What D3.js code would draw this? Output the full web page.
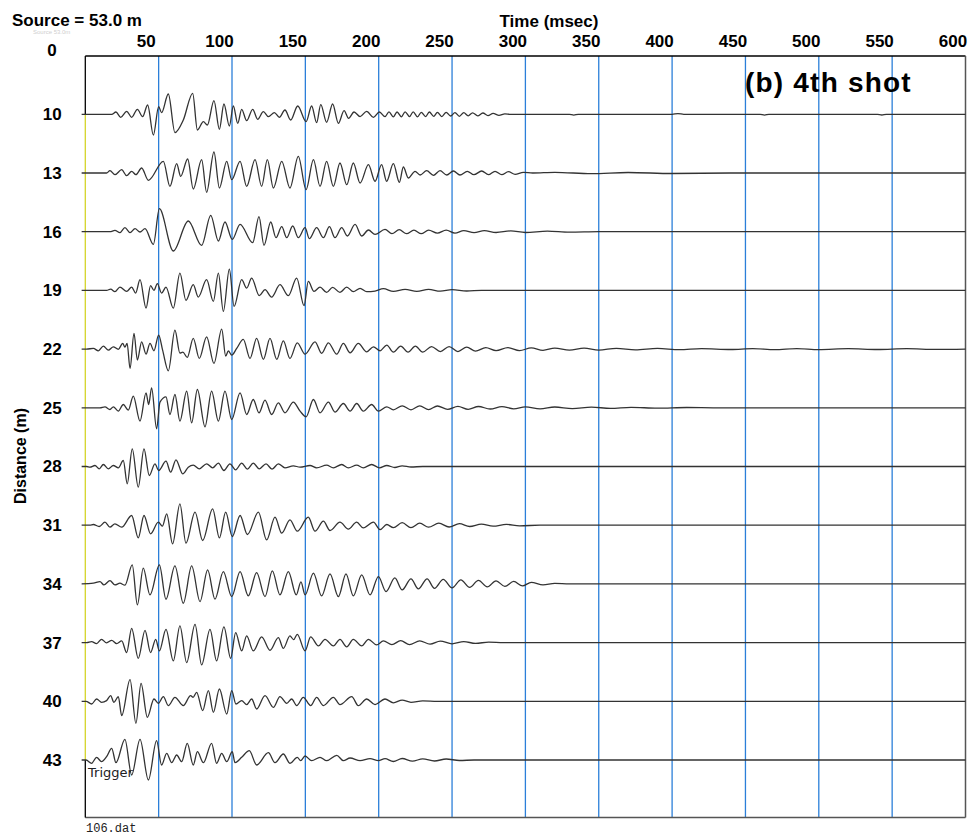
<!DOCTYPE html>
<html>
<head>
<meta charset="utf-8">
<script src="https://cdn.jsdelivr.net/npm/d3@7"></script>
<style>
  body { margin: 0; background: #fff; }
  svg { display: block; font-family: Arial, "Liberation Sans", sans-serif; }
</style>
</head>
<body>
<svg id="chart" width="971" height="839"></svg>
<script>
// receiver offsets (m) and time marks (ms)
const distances = [10, 13, 16, 19, 22, 25, 28, 31, 34, 37, 40, 43];
const gridTimes = [50, 100, 150, 200, 250, 300, 350, 400, 450, 500, 550];
const tickTimes = [50, 100, 150, 200, 250, 300, 350, 400, 450, 500, 550, 600];

// traces: [time ms, relative amplitude] at each turning point
const trace10 = [[-2.5,0],[18,0],[20.9,2.3],[24.1,-3],[28.2,3],[31.6,-3],[35.5,5],[39.1,-2.3],[42.5,9.3],[46.4,-20.7],[50,7.7],[52,1.7],[56.6,20.3],[61.1,-18.3],[66.8,-5.7],[73.2,21],[76.4,-15.7],[80.5,-7.3],[83.2,-10.7],[87.7,13.7],[91.4,-15],[94.5,10.3],[98.2,-11.7],[100.9,8.3],[103.9,-9],[106.6,5],[110,-6.3],[114.1,5],[117.5,-5],[121.4,2.7],[124.8,-2.3],[128.9,1.7],[132.3,-3],[136.1,4.3],[140,-5.7],[144.8,8.3],[150.5,-7.3],[154.3,8.3],[157.7,-8.3],[160.5,9.7],[164.5,-8],[168.6,10.3],[172.5,-9],[176.4,3.7],[179.5,-4],[183.2,2.3],[187.3,-2.3],[191.8,3],[196.4,-3],[200.5,2.3],[204.3,-2.3],[207,2.5],[210,-2.5],[212.5,2.3],[215.5,-2.5],[218,2.5],[221,-2.3],[223.5,2.5],[226.5,-2.5],[229,2],[232,-2.3],[234.5,2.3],[237.5,-2],[240,2],[243,-2.3],[246,2],[249,-1.7],[252,1.7],[255,-2],[258,1.7],[261,-1.5],[264,1.5],[267.5,-1.5],[271,1.3],[274.5,-1.3],[278,1],[282,-1],[286,0.5],[290,0],[330,0],[333,-0.8],[336,0],[400,0],[404,0.7],[408,0],[460,0],[463,-0.8],[466,0],[540,0],[543,-0.7],[546,0],[600,0]];
const trace13 = [[-2.5,0],[14.5,0],[16.8,2.3],[20.2,-1.7],[24.8,3.3],[28.2,-2.7],[31.6,1.7],[34.5,-1.7],[38.4,5],[43,-7.3],[53.2,11.7],[57.7,-13.3],[62.3,9.3],[65,-3.3],[69.8,14],[73.6,-16],[79.3,13.3],[82.7,-19.3],[87.7,21],[91.4,-15],[96.4,11.7],[99.8,-6.7],[105.5,11.7],[110,-13.3],[115.7,13.3],[120.2,-13.3],[124.1,13.3],[128.2,-15],[133.9,11.7],[139.5,-15],[145.2,16.7],[150.5,-16.7],[155.5,13.3],[160,-13.3],[164.5,11.7],[169.1,-13.3],[173.6,10],[178.2,-11.7],[182.7,10],[187.3,-10],[193,8.3],[197.5,-8.3],[202,8.3],[205.4,-8.3],[210,9.3],[214.1,-9.3],[216.8,6],[220.2,-5],[224.8,1.7],[228.2,-2],[232.7,2.3],[237.3,-2.3],[241.8,2.3],[246.4,-2],[250.9,2],[255.4,-2],[260.4,1.7],[264.9,-1.7],[270.2,2],[274.8,-1.7],[279.3,1.7],[283.9,-1.7],[288.4,1.3],[293,-1.3],[298.6,0.7],[305,0],[320,0.7],[345,-0.7],[370,0.5],[400,-0.5],[440,0],[600,0]];
const trace16 = [[-2.5,0],[16.8,0],[20.2,1.3],[23.6,-1],[27,4],[30.5,-1],[33.9,3],[37.3,-0.3],[40.7,3],[46.4,-12.7],[50.5,23],[60,-19.3],[70.2,10.7],[79.3,-13.7],[85.5,16.3],[90.7,-9.3],[95.2,9.7],[100.2,-7.7],[105.5,7.3],[114.1,-11],[118.4,15],[121.8,-13.7],[126.4,9.7],[130,-6],[133.9,5],[137.3,-6],[141.4,5.7],[145.2,-6],[149.8,4],[152.7,-7],[157.7,4],[162.3,-6],[166.4,5],[170.2,-6],[174.8,4],[178.6,-4.3],[183.9,7.3],[188.4,-4.3],[193,1.7],[197.5,-2.7],[204.3,2.3],[209,-2],[214,2],[219,-2],[224,1.5],[229,-2],[234,1.5],[240,-1.5],[246,1.5],[252,-1.5],[258,1],[265,-1],[272,1],[280,-0.8],[290,0.8],[300,-0.8],[315,0.5],[330,-0.5],[350,0],[600,0]];
const trace19 = [[-2.5,0],[14.5,0],[17.3,1.3],[20.2,-1.3],[23.6,3.3],[28.2,-1],[31.6,3.3],[34.3,-2.7],[37.3,10.7],[41.4,-17.7],[44.5,4.7],[46.8,0],[49.1,6.7],[52,-2.7],[55,3.3],[60,-17.7],[64.5,17.3],[68.6,-10],[73.6,5.7],[77,-6.7],[82.7,10.7],[87.3,-11],[90.7,17.3],[94.1,-21],[98.2,21.3],[101.4,-16],[106.6,10.7],[110,2.3],[113.4,12.3],[118.6,-5.3],[122.5,0.7],[127,-6.7],[132.7,5.7],[138.4,-5.3],[144.1,12.3],[149.1,-15.3],[152,9],[155.9,-1],[160,3.3],[164.5,-2],[168.6,3],[173.6,-2],[178.2,3.3],[182.7,-1.3],[187.3,2],[191.8,-1.3],[197.5,-0.7],[203.2,1.7],[210,-1],[218,1],[226,-1],[234,1],[242,-0.8],[250,0.8],[260,-0.6],[270,0],[600,0]];
const trace22 = [[-2.5,0],[0.9,0],[5.5,0.7],[8.9,-1.7],[12.3,3],[15.7,-1],[19.1,2.3],[22.5,-0.3],[25.5,5.7],[27,2],[28.5,5.7],[30.5,-19.3],[33.2,15.7],[35.5,-11],[38.4,7.3],[41.4,-5],[44.1,5.7],[46.8,-1.7],[50,14],[52.7,-1],[56.6,-21.7],[61.1,19],[64.5,-4],[66.5,-3],[69.5,-8.3],[73.6,10.7],[77.7,-9.3],[82.7,12.3],[87.7,-14.3],[93,20],[95.7,-7],[97.5,-1.7],[99.8,-6],[103.2,0.7],[107.7,9.7],[112.3,-9.3],[116.8,10.7],[121.4,-10.3],[125.9,10.7],[130.5,-10.3],[135,8.3],[139.5,-9.3],[144.5,6.3],[149.8,-5],[156.6,7.3],[161.1,-4.3],[165.7,6.3],[171.4,-5],[175.9,5.7],[180.5,-3.7],[186.1,5.7],[191.8,-2.7],[196.4,2.3],[200.9,-1.7],[205.5,4],[210,-3],[215,3],[220,-3],[225,3],[230,-3],[236,2.5],[242,-2.5],[248,2.5],[254,-2.5],[260,2],[266,-2],[273,1.5],[280,-1.5],[288,1.5],[296,-1.5],[304,1.2],[312,-1.2],[320,1],[330,-1],[340,1],[350,-1],[362,0.8],[375,-0.8],[390,0.7],[405,-0.6],[420,0.5],[440,-0.4],[455,0.5],[470,-0.5],[485,0.5],[500,-0.5],[520,0.4],[540,-0.4],[560,0.4],[580,-0.3],[600,0]];
const trace25 = [[-2.5,0],[10,0],[13.4,1],[16.8,-1.7],[19.1,1],[22.5,-3.3],[25.9,3.3],[29.3,-2.3],[32.7,11.7],[37.3,-13.3],[41.4,15],[43.2,3.3],[45.2,20],[48.6,-21],[50.9,5.7],[55,11],[57.7,-6.7],[61.1,13.3],[64.5,-13.3],[69.1,16.7],[72.5,-15],[76.4,18.3],[81.6,-19],[86.1,16.7],[90.7,-13.3],[95.2,16.7],[99.8,-11.7],[105.5,15],[110,-6.7],[114.5,8.3],[118.4,-5],[122.5,7.7],[127,-6.7],[131.6,5],[136.1,-5],[141.8,5.7],[146.4,-3.3],[150.5,-9],[155.5,8.3],[160,-5],[165.7,5.7],[170.2,-4.3],[175.9,4.3],[180.5,-3.3],[185,4.3],[189.5,-3.3],[195.2,3.3],[199.8,-3.3],[205.5,1],[210,-2],[216,2],[222,-2],[228,2],[234,-1.8],[240,1.8],[247,-1.5],[254,1.5],[261,-1.5],[268,1.3],[276,-1.2],[284,1.2],[292,-1],[300,1],[310,-1],[320,0.8],[332,-0.8],[345,0.7],[358,-0.6],[372,0.5],[390,-0.4],[410,0.3],[430,0],[600,0]];
const trace28 = [[-2.5,0],[0.9,0],[3.2,-0.7],[6.6,1],[9.5,-2.3],[12.3,2],[15.7,-2.3],[19.1,1],[22.5,-1.3],[25.9,6],[28.6,-17.3],[32,17.7],[36.1,-20.7],[40,17.7],[43.6,-9],[47.5,2.7],[50,-4],[55,5.3],[58.2,-5.7],[61.8,6.7],[66.4,-7.3],[70.2,-0.7],[73.6,1.3],[77.7,-2.3],[82.7,2.7],[86.8,-1.3],[90.7,3.3],[94.5,-4],[98.6,2.7],[102.5,-3.3],[106.6,3.3],[110.5,-2.7],[114.5,3.3],[118.6,-2.3],[123.2,2.7],[127.3,-2.7],[131.6,2.7],[136.1,-1.3],[141.8,0.7],[146.4,-0.7],[153.2,1],[157.7,-1.3],[164.5,1.3],[169.1,-1.3],[174.8,2],[179.3,-1.3],[185,1.3],[189.5,-1.3],[195.2,2],[200.5,-1.3],[205.5,1],[211,-1],[216,0.7],[222,-0.5],[230,0],[600,0]];
const trace31 = [[-2.5,0],[3.2,0],[5.5,0.7],[9.5,-1.3],[13.4,3],[16.8,-2],[20.2,1.3],[24.8,-2],[31.6,9.7],[36.1,-12.7],[40,9.7],[44.5,-8.7],[49.8,3],[52.5,-1],[55.5,11.3],[59.5,-18.7],[64.5,21.3],[68.6,-18],[74.8,13],[80,-15.3],[86.8,16.3],[91.4,-12.7],[95.7,13],[100.2,-11.3],[105.5,9.7],[110.5,-9.3],[118,13],[123.6,-14.7],[129.3,8],[133.9,-8],[139.5,5.3],[144.5,-6],[152,8],[156.6,-6],[162.3,4],[166.8,-5.3],[173.6,3],[179.3,-4],[185,3],[189.5,-2.7],[196.4,3],[200.9,-4.5],[205.5,0.7],[210,-2.5],[216,2.5],[222,-2.5],[228,2],[234,-2],[241,2],[248,-1.8],[255,1.5],[262,-1.3],[270,1],[278,-1],[287,0.8],[296,-0.6],[310,0],[600,0]];
const trace34 = [[-2.5,0],[5.5,0.7],[10,2.3],[12.7,-1],[16.8,3.3],[20.2,-1],[23.6,0.7],[27,-1.3],[32,19],[35.5,-21],[39.5,15.7],[44.1,-11],[50.5,19],[55,-15.3],[61.1,18],[66.8,-19.3],[72.5,18],[78.2,-17.7],[83.4,14],[88.4,-15.3],[94.1,12.3],[99.8,-12.7],[105.5,12.3],[111.1,-12],[116.8,11.3],[122.5,-12.7],[127.5,13],[132.7,-11],[138.4,12.3],[143.8,-11],[147,2],[149.8,-11],[155.5,10.7],[161.1,-12],[166.8,10],[172.5,-12.7],[177.7,10],[182.7,-12],[188.4,9],[194.1,-11],[199.8,7.3],[205,-7.7],[211,6],[216,-6],[222,5],[227,-5],[233,5],[238,-4.5],[244,4.5],[250,-4],[256,4],[262,-3.5],[268,3.5],[274,-3],[280,3],[286,-2.5],[292,2.5],[298,-2],[304,1.5],[312,-1],[320,0.5],[330,0],[600,0]];
const trace37 = [[-2.5,0],[0.9,0],[4.3,1],[7.7,-1],[11.1,3.3],[14.5,-0.3],[18,2.3],[21.4,-1],[24.8,1.7],[28.2,-10],[31.6,14.3],[36.1,-15.7],[40.7,12.3],[44.5,-10],[48,3.3],[50.5,-8.3],[55,13.3],[60,-18.3],[64.5,16.7],[69.1,-20],[74.8,18.3],[79.3,-22.3],[85,13.3],[89.5,-18.3],[94.5,15.7],[99.1,-15.7],[102.5,10],[106.6,-8.3],[110,6.7],[114.5,-8.3],[120.2,5.7],[125.9,-7.7],[131.6,5],[135,-5.7],[139.5,6.7],[142,3],[144.5,8.3],[149.8,-8.3],[153.6,5.7],[158.9,-3.3],[163.4,3.3],[169.1,-3.3],[173.6,3.3],[178.2,-4.3],[182.7,3.3],[188.4,-3.3],[193,3.3],[198.6,-2.3],[203.2,1.7],[209,-2],[215,2],[221,-2],[228,1.7],[235,-1.5],[242,1.5],[250,-1.2],[258,1],[266,-0.8],[275,0.5],[285,0],[600,0]];
const trace40 = [[-2.5,0],[0.5,0],[4.3,-2.7],[7.7,2.3],[11.1,-1],[14.5,0.7],[17.3,5.7],[19.5,-1],[22.5,4.7],[24.8,-14.3],[30.5,21.7],[34.5,-22],[38,18],[42.3,-16],[46.8,2.3],[49.8,-2],[53.2,4.7],[56.6,-4.3],[61.1,4],[66.8,-4.3],[71.8,5.7],[73.5,4],[75.9,9],[80,-9.3],[83.9,10.7],[87.3,-11],[91.4,12.3],[96.4,-12.7],[99.8,10.7],[102.7,-2.7],[106.6,0.7],[110,-3.3],[113.4,2.3],[116.8,-7.7],[122.5,5.7],[128.2,-6],[132.7,4.7],[137.3,-2],[140.7,2.3],[144.1,-4.3],[148.6,4],[153.6,-4.3],[157.7,4],[162.3,-4.3],[169.1,4],[173.6,-3.3],[181.6,4.7],[186.1,-4.3],[191.8,2.3],[197.5,-3.3],[204.3,2.3],[210,-1.5],[216,1.2],[222,-1],[230,0.5],[240,0],[600,0]];
const trace43 = [[-2.5,0],[0.5,0],[4.3,-3.3],[7.7,2.7],[11.1,-1.7],[14.5,3.3],[18,11.7],[20.9,-2.7],[27,20.7],[31.6,-15],[37.3,20.7],[43,-20],[48.6,19.3],[52,-5],[55.5,6.7],[58.9,-2.7],[62.3,5],[65.7,-1.7],[69.5,16.7],[73.6,-5],[76.4,8.3],[80.5,-2.7],[86.1,16.7],[89.5,-3.3],[93,6.7],[96.4,-1.7],[100.2,8.3],[102,-2.7],[106.6,2.7],[111.8,9.3],[116.8,-5],[124.8,7.3],[129.3,-2.7],[135,6],[139.5,-3.3],[144.5,2.7],[146.8,-0.7],[149.8,4],[154.3,-0.7],[160,2.7],[164.5,-0.7],[171.4,4.7],[175.9,-0.7],[180.5,2],[187.3,-0.7],[194.1,1.3],[199.8,-0.7],[204.3,1.3],[210,-1.5],[216,1.5],[223,-1.2],[230,1.2],[238,-1],[246,1],[255,-0.5],[265,0],[600,0]];

const traces = [trace10, trace13, trace16, trace19, trace22, trace25, trace28, trace31, trace34, trace37, trace40, trace43];

const svg = d3.select('#chart');
const plotTop = 56;
const plotBottom = 817.5;

const x = d3.scaleLinear().domain([0, 600]).range([85.3, 965.5]);
const y = d3.scaleLinear().domain([10, 43]).range([114.3, 760]);
const amp = d3.scaleLinear().domain([-20, 20]).range([20, -20]);

// timing lines
svg.append('g')
  .selectAll('line')
  .data(gridTimes)
  .join('line')
  .attr('x1', (d) => x(d))
  .attr('x2', (d) => x(d))
  .attr('y1', plotTop)
  .attr('y2', plotBottom)
  .attr('stroke', '#2b7fd9')
  .attr('stroke-width', 1.3);

// frame
const frame = svg.append('g').attr('fill', 'none');
frame.append('line')
  .attr('x1', x(0)).attr('x2', x(600)).attr('y1', plotTop).attr('y2', plotTop)
  .attr('stroke', '#000').attr('stroke-width', 1.5);
frame.append('line')
  .attr('x1', x(600)).attr('x2', x(600)).attr('y1', plotTop).attr('y2', plotBottom)
  .attr('stroke', '#555').attr('stroke-width', 1.5);
frame.append('line')
  .attr('x1', x(0)).attr('x2', x(600)).attr('y1', plotBottom).attr('y2', plotBottom)
  .attr('stroke', '#555').attr('stroke-width', 1.5);
frame.append('line')
  .attr('x1', x(0)).attr('x2', x(0)).attr('y1', plotTop).attr('y2', y(10))
  .attr('stroke', '#000').attr('stroke-width', 1.3);
frame.append('line')
  .attr('x1', x(0)).attr('x2', x(0)).attr('y1', y(10)).attr('y2', y(43))
  .attr('stroke', '#d4d42a').attr('stroke-width', 1.3);
frame.append('line')
  .attr('x1', x(0)).attr('x2', x(0)).attr('y1', y(43)).attr('y2', plotBottom)
  .attr('stroke', '#000').attr('stroke-width', 1.3);

// seismic traces
const line = d3.line()
  .x((d) => x(d[0]))
  .y((d) => amp(d[1]))
  .curve(d3.curveMonotoneX);

svg.append('g')
  .selectAll('path')
  .data(traces)
  .join('path')
  .attr('transform', (d, i) => `translate(0,${y(distances[i])})`)
  .attr('d', line)
  .attr('fill', 'none')
  .attr('stroke', '#333')
  .attr('stroke-width', 1.3)
  .attr('stroke-linejoin', 'round');

// time axis on top
svg.append('g')
  .attr('transform', `translate(0,${plotTop})`)
  .call(d3.axisTop(x).tickValues(tickTimes).tickSize(0).tickPadding(9))
  .call((g) => g.select('.domain').remove())
  .attr('font-family', null)
  .attr('font-size', null)
  .selectAll('text')
  .attr('dx', -13)
  .attr('fill', '#000')
  .style('font-size', '17px')
  .style('font-weight', 'bold');

// distance axis
svg.append('g')
  .attr('transform', `translate(${x(0)},0)`)
  .call(d3.axisLeft(y).tickValues(distances).tickSize(0).tickPadding(0))
  .call((g) => g.select('.domain').remove())
  .attr('font-family', null)
  .attr('font-size', null)
  .selectAll('text')
  .attr('x', -33)
  .attr('text-anchor', 'middle')
  .attr('fill', '#000')
  .style('font-size', '17px')
  .style('font-weight', 'bold');

svg.append('text')
  .attr('x', 52).attr('y', plotTop)
  .attr('text-anchor', 'middle')
  .style('font-size', '17px').style('font-weight', 'bold')
  .text('0');

// titles
svg.append('text')
  .attr('x', 12).attr('y', 26)
  .style('font-size', '17px').style('font-weight', 'bold')
  .text('Source = 53.0 m');

svg.append('text')
  .attr('x', 33).attr('y', 34)
  .attr('fill', '#cfcfcf')
  .style('font-size', '6px')
  .text('Source   53.0m');

svg.append('text')
  .attr('x', 549).attr('y', 27)
  .attr('text-anchor', 'middle')
  .style('font-size', '17px').style('font-weight', 'bold')
  .text('Time (msec)');

svg.append('text')
  .attr('transform', 'translate(26,456) rotate(-90)')
  .attr('text-anchor', 'middle')
  .style('font-size', '16px').style('font-weight', 'bold')
  .text('Distance (m)');

svg.append('text')
  .attr('x', 745).attr('y', 92)
  .style('font-size', '28px').style('font-weight', 'bold')
  .style('letter-spacing', '1.2px')
  .text('(b) 4th shot');

svg.append('text')
  .attr('x', 88).attr('y', 777)
  .attr('fill', '#222')
  .style('font-family', '"DejaVu Sans", sans-serif')
  .style('font-size', '13px')
  .text('Trigger');

svg.append('text')
  .attr('x', 86).attr('y', 832)
  .attr('fill', '#222')
  .style('font-family', '"Liberation Mono", monospace')
  .style('font-size', '12px')
  .text('106.dat');
</script>
</body>
</html>
